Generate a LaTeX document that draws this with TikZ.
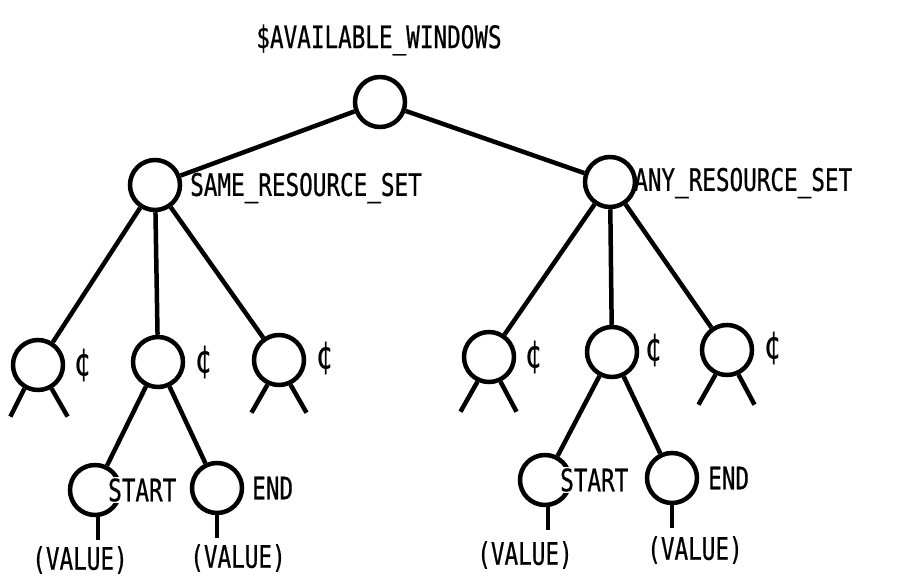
\documentclass[tikz,border=0pt]{standalone}
\usepackage{fontspec}
\setmainfont{DejaVu Sans Mono}[FakeStretch=0.73, FakeBold=0.6]
\tikzset{
	knot/.style={circle, draw, line width=4.5pt, minimum size=50pt, inner sep=0pt},
	tag/.style={font=\fontsize{31}{36}\selectfont, inner sep=0pt},
	cent/.style={font=\fontsize{38}{42}\selectfont, inner sep=0pt},
	edge/.style={line width=4.5pt}
}
\begin{document}
\begin{tikzpicture}[x=1pt, y=-1pt]

	\useasboundingbox (0,0) rectangle (898,576);
	\node[tag] (title) at (379,40) {\$AVAILABLE\_WINDOWS};
	\node[knot] (root) at (380,102) {};
	\node[knot] (same) at (155,185) {};
	\node[knot] (any) at (610,182) {};
	\node[tag, anchor=west] (samelbl) at (190,188) {SAME\_RESOURCE\_SET};
	\node[tag, anchor=west] (anylbl) at (634,183) {ANY\_RESOURCE\_SET};

	\node[knot] (sl) at (38,365) {};
	\node[knot] (sm) at (158,362) {};
	\node[knot] (sr) at (279,360) {};
	\node[knot] (al) at (489,357) {};
	\node[knot] (am) at (612,352) {};
	\node[knot] (ar) at (727,350) {};
	\node[cent] (slc) at (82,365) {¢};
	\node[cent] (smc) at (203,362) {¢};
	\node[cent] (src) at (324,358) {¢};
	\node[cent] (alc) at (533,357) {¢};
	\node[cent] (amc) at (653,350) {¢};
	\node[cent] (arc) at (772,348) {¢};

	\node[knot] (sstart) at (95,490) {};
	\node[knot] (send) at (217,488) {};
	\node[knot] (astart) at (545,480) {};
	\node[knot] (aend) at (672,478) {};
	\node[tag, anchor=west, fill=white, inner sep=1pt] (sstartlbl) at (107,490) {START};
	\node[tag, anchor=west] (sendlbl) at (252,488) {END};
	\node[tag, anchor=west, fill=white, inner sep=1pt] (astartlbl) at (559,480) {START};
	\node[tag, anchor=west] (aendlbl) at (708,478) {END};
	\node[tag] (sval1) at (80,560) {(VALUE)};
	\node[tag] (sval2) at (238,558) {(VALUE)};
	\node[tag] (aval1) at (525,555) {(VALUE)};
	\node[tag] (aval2) at (695,550) {(VALUE)};

	\draw[edge] (root) -- (same);
	\draw[edge] (root) -- (any);
	\draw[edge] (same) -- (sl);
	\draw[edge] (same) -- (sm);
	\draw[edge] (same) -- (sr);
	\draw[edge] (any) -- (al);
	\draw[edge] (any) -- (am);
	\draw[edge] (any) -- (ar);
	\draw[edge] (sm) -- (sstart);
	\draw[edge] (sm) -- (send);
	\draw[edge] (am) -- (astart);
	\draw[edge] (am) -- (aend);

	\draw[edge] (sl.240) -- ++(-14,28);
	\draw[edge] (sl.300) -- ++(16,28);
	\draw[edge] (sr.245) -- ++(-16,28);
	\draw[edge] (sr.295) -- ++(16,28);
	\draw[edge] (al.245) -- ++(-17,30);
	\draw[edge] (al.295) -- ++(16,30);
	\draw[edge] (ar.245) -- ++(-17,30);
	\draw[edge] (ar.295) -- ++(16,30);

	\draw[edge] (sstart.south) ++(3,0) -- ++(0,23);
	\draw[edge] (send.south) -- ++(0,23);
	\draw[edge] (astart.south) ++(3,0) -- ++(0,23);
	\draw[edge] (aend.south) -- ++(0,23);

\end{tikzpicture}
\end{document}
